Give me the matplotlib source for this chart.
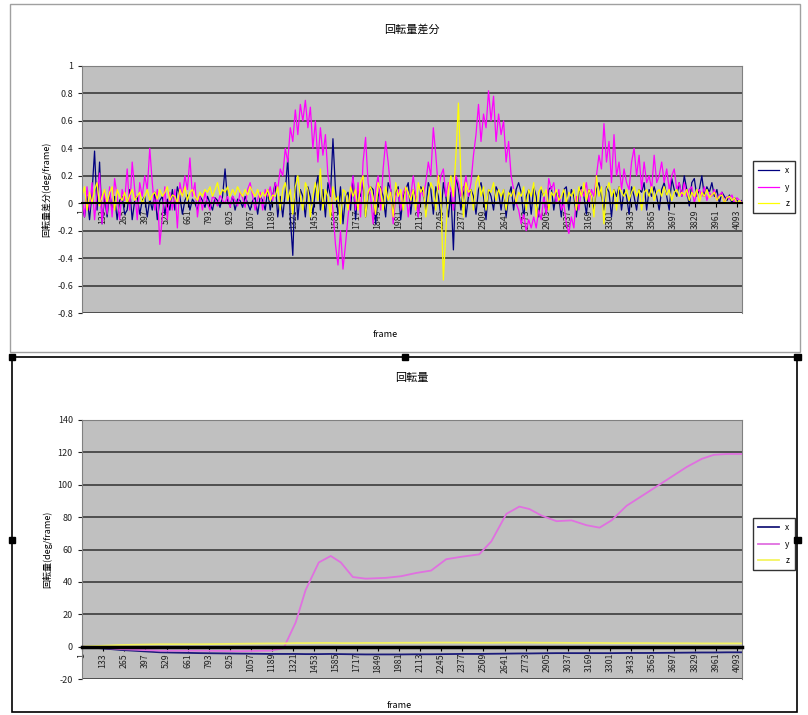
import numpy as np
import matplotlib
matplotlib.use("Agg")
import matplotlib.pyplot as plt
from matplotlib.patches import Rectangle
from matplotlib.ticker import FixedLocator, FuncFormatter

plt.rcParams['font.family'] = ['Noto Sans CJK JP', 'DejaVu Sans']

# --- data -------------------------------------------------------------
# frame ticks shown on the category axis
tick_frames = [1 + 132 * k for k in range(32)]

# top chart: rotation difference per frame (read by eye, 264 samples)
diff_x = [0.0, -0.1, 0.05, -0.12, 0.08, 0.38, -0.05, 0.3, -0.15, 0.05, -0.1, 0.08,
          -0.05, 0.05, -0.12, 0.02, 0.05, -0.08, -0.05, 0.1, -0.12, 0.02, 0.05, -0.08,
          0.02, 0.05, -0.1, 0.03, -0.05, 0.08, -0.12, 0.02, 0.05, -0.08, 0.03, -0.05,
          0.1, -0.05, 0.12, 0.05, -0.08, 0.02, 0.06, -0.05, 0.03, 0.0, -0.05, 0.05,
          0.02, -0.03, 0.05, 0.0, -0.05, 0.04, 0.02, -0.03, 0.05, 0.25, 0.02, -0.02,
          0.05, -0.05, 0.03, 0.02, -0.03, 0.05, 0.0, -0.05, 0.02, 0.04, -0.08, 0.05,
          0.02, -0.05, 0.1, -0.05, 0.05, 0.15, -0.1, 0.05, -0.1, 0.08, 0.33, -0.1,
          -0.38, 0.2, -0.12, 0.1, 0.05, -0.1, 0.12, 0.05, -0.08, 0.1, 0.2, -0.05,
          0.1, -0.1, 0.15, 0.05, 0.47, 0.1, -0.08, 0.12, -0.15, 0.05, 0.08, -0.05,
          0.2, -0.12, 0.1, 0.05, 0.15, -0.1, 0.05, 0.12, 0.1, -0.15, 0.05, 0.12,
          0.05, -0.1, 0.15, 0.1, -0.05, 0.08, 0.12, -0.12, 0.05, 0.1, 0.15, -0.08,
          0.1, 0.05, -0.1, 0.12, 0.08, -0.05, 0.15, 0.1, -0.08, 0.12, 0.05, -0.1,
          0.15, 0.05, -0.1, 0.08, -0.34, 0.2, 0.1, -0.05, 0.12, -0.1, 0.05, 0.1,
          0.05, -0.08, 0.1, 0.15, 0.05, -0.12, 0.1, 0.05, -0.05, 0.12, 0.08, -0.05,
          0.1, -0.1, 0.05, 0.12, -0.05, 0.1, 0.15, 0.08, -0.1, 0.05, 0.1, -0.08,
          0.12, 0.05, -0.1, 0.1, 0.05, -0.08, 0.1, 0.12, -0.05, 0.08, 0.05, -0.1,
          0.1, 0.12, -0.05, 0.1, 0.05, -0.1, 0.08, 0.12, 0.05, -0.08, 0.1, 0.05,
          -0.05, 0.1, 0.15, 0.05, -0.05, 0.12, 0.08, -0.1, 0.1, 0.05, 0.12, -0.05,
          0.1, 0.05, -0.08, 0.12, 0.05, -0.05, 0.1, 0.08, 0.15, -0.05, 0.1, 0.05,
          0.12, 0.05, -0.05, 0.1, 0.15, 0.05, -0.05, 0.18, 0.1, 0.05, 0.15, 0.05,
          0.2, 0.1, -0.02, 0.15, 0.18, 0.05, 0.1, 0.2, 0.05, 0.12, 0.08, 0.15,
          0.05, 0.1, 0.0, 0.08, 0.05, 0.02, 0.06, 0.0, 0.04, 0.02, 0.0, 0.02]
diff_y = [0.05, -0.1, 0.12, -0.05, 0.15, -0.12, 0.08, 0.22, -0.15, 0.1, -0.08, 0.12,
          -0.1, 0.18, 0.05, -0.12, 0.1, 0.02, 0.25, -0.05, 0.3, 0.1, -0.12, 0.15,
          0.05, 0.2, 0.1, 0.4, 0.15, -0.05, 0.1, -0.3, -0.1, 0.12, -0.12, 0.08,
          -0.05, 0.1, -0.18, 0.15, 0.05, 0.2, 0.1, 0.33, 0.05, 0.15, -0.1, 0.05,
          -0.05, 0.08, 0.0, -0.05, 0.05, 0.03, -0.02, 0.06, 0.02, 0.0, 0.05, -0.03,
          0.05, 0.02, -0.02, 0.08, 0.04, -0.03, 0.1, 0.15, 0.05, -0.05, 0.03, 0.08,
          -0.05, 0.1, 0.05, 0.12, 0.02, 0.15, 0.1, 0.25, 0.2, 0.4, 0.3, 0.55,
          0.45, 0.68, 0.5, 0.72, 0.6, 0.75, 0.55, 0.7, 0.4, 0.6, 0.3, 0.55,
          0.35, 0.5, 0.2, 0.1, -0.05, -0.3, -0.45, -0.2, -0.48, -0.3, -0.1, 0.05,
          0.2, -0.05, 0.15, -0.1, 0.3, 0.48, 0.15, 0.05, -0.15, 0.1, 0.2, -0.05,
          0.25, 0.45, 0.3, 0.1, -0.15, 0.05, 0.1, -0.05, 0.08, 0.12, -0.1, 0.05,
          0.2, 0.05, -0.1, 0.1, 0.05, 0.15, 0.3, 0.2, 0.55, 0.35, 0.1, 0.2,
          0.25, 0.05, 0.15, 0.1, -0.05, 0.2, 0.15, 0.05, 0.1, 0.2, 0.05, 0.15,
          0.35, 0.5, 0.72, 0.45, 0.65, 0.55, 0.82, 0.6, 0.78, 0.45, 0.65, 0.5,
          0.6, 0.3, 0.45, 0.2, 0.1, 0.0, -0.05, -0.15, -0.08, -0.2, -0.12, -0.18,
          -0.1, -0.18, -0.05, -0.12, 0.05, -0.08, 0.18, 0.1, 0.15, 0.0, 0.1, -0.05,
          0.0, -0.15, -0.22, -0.1, -0.18, 0.05, -0.05, 0.1, 0.05, 0.15, 0.0, 0.1,
          0.05, 0.2, 0.35, 0.25, 0.58, 0.3, 0.45, 0.15, 0.5, 0.2, 0.3, 0.1,
          0.25, 0.15, 0.1, 0.3, 0.4, 0.2, 0.35, 0.1, 0.3, 0.15, 0.2, 0.1,
          0.35, 0.15, 0.2, 0.3, 0.15, 0.25, 0.1, 0.2, 0.25, 0.1, 0.15, 0.05,
          0.15, 0.05, 0.1, 0.12, 0.0, 0.08, 0.1, 0.05, 0.12, 0.02, 0.08, 0.05,
          0.1, 0.02, 0.06, 0.08, 0.0, 0.05, 0.03, 0.06, 0.0, 0.04, 0.02, 0.01]
diff_z = [0.05, 0.12, -0.05, 0.08, 0.0, 0.1, 0.15, -0.02, 0.05, 0.1, 0.0, 0.08,
          0.12, -0.05, 0.1, 0.05, 0.02, 0.08, 0.0, 0.06, 0.1, 0.02, 0.05, 0.08,
          0.0, 0.05, 0.1, 0.02, 0.06, 0.08, 0.03, 0.1, 0.05, 0.08, 0.12, 0.02,
          0.06, 0.05, 0.0, 0.1, 0.05, 0.12, 0.02, 0.08, 0.1, 0.05, 0.02, 0.08,
          0.05, 0.1, 0.08, 0.12, 0.05, 0.1, 0.15, 0.06, 0.1, 0.08, 0.12, 0.05,
          0.1, 0.06, 0.12, 0.08, 0.05, 0.1, 0.06, 0.12, 0.08, 0.05, 0.1, 0.04,
          0.08, 0.05, 0.1, 0.02, 0.06, 0.05, 0.12, -0.05, 0.1, 0.15, 0.02, 0.1,
          -0.08, 0.12, 0.2, 0.05, -0.05, 0.15, 0.1, -0.1, 0.05, 0.15, 0.02, 0.25,
          -0.05, 0.1, 0.05, -0.1, 0.12, 0.02, 0.05, -0.15, 0.1, 0.08, -0.05, 0.12,
          0.05, 0.1, -0.05, 0.15, 0.2, -0.1, 0.08, 0.12, 0.05, -0.08, 0.15, 0.1,
          -0.05, 0.12, 0.02, 0.08, -0.1, 0.15, 0.05, 0.1, -0.05, 0.12, 0.08, 0.02,
          0.1, -0.05, 0.15, 0.08, 0.12, -0.1, 0.05, 0.15, 0.1, -0.05, 0.2, 0.05,
          -0.56, -0.2, 0.1, 0.2, 0.05, 0.35, 0.73, 0.2, -0.1, 0.15, 0.08, 0.1,
          -0.05, 0.15, 0.2, 0.05, 0.12, -0.05, 0.1, 0.08, 0.15, 0.02, 0.1, 0.05,
          0.1, -0.05, 0.08, 0.05, 0.1, 0.0, 0.08, 0.05, 0.12, -0.05, 0.1, 0.05,
          0.15, -0.1, 0.08, 0.12, 0.05, 0.1, -0.05, 0.08, 0.05, 0.1, 0.02, 0.05,
          0.1, 0.0, 0.08, 0.05, 0.1, -0.05, 0.12, 0.05, 0.15, 0.02, 0.1, 0.05,
          -0.1, 0.2, 0.05, 0.12, -0.15, 0.1, 0.15, 0.05, 0.1, -0.05, 0.12, 0.08,
          0.05, 0.1, 0.02, 0.08, 0.12, 0.05, 0.1, -0.05, 0.08, 0.1, 0.05, 0.12,
          0.02, 0.08, 0.1, 0.05, 0.12, 0.06, 0.1, 0.02, 0.08, 0.1, 0.05, 0.08,
          0.06, 0.1, 0.02, 0.08, 0.05, 0.1, 0.0, 0.08, 0.05, 0.1, 0.04, 0.06,
          0.08, 0.02, 0.05, 0.06, 0.0, 0.04, 0.05, 0.02, 0.04, 0.0, 0.02, 0.0]

# bottom chart: accumulated rotation
frames_b = [1, 239, 490, 740, 991, 1179, 1260, 1336, 1398, 1480,
            1555, 1618, 1693, 1774, 1900, 1994, 2088, 2182, 2276, 2370,
            2482, 2558, 2652, 2733, 2796, 2871, 2965, 3059, 3153, 3234,
            3309, 3403, 3529, 3654, 3779, 3873, 3948, 4030, 4124]
rot_x = [0, -2, -3.5, -4, -4.3, -4.5, -4.5, -4.5, -4.6, -4.6,
         -4.5, -4.6, -4.7, -4.8, -4.8, -4.8, -4.7, -4.7, -4.6, -4.5,
         -4.5, -4.4, -4.3, -4.2, -4.2, -4.1, -4, -4, -4, -4,
         -4, -3.9, -3.9, -3.8, -3.7, -3.6, -3.6, -3.5, -3.5]
rot_y = [0, -1.5, -2.5, -2.5, -2.8, -2.5, -1, 15, 35, 52,
         56, 52, 43, 42, 42.5, 43.5, 45.5, 47, 54, 55.5,
         57, 65, 82, 86.5, 85, 81, 77.5, 78, 75, 73.5,
         78, 87, 95, 103, 111, 116, 118.5, 119, 119]
rot_z = [0, 1, 1.5, 1.5, 1.8, 2, 2, 2.2, 2.2, 2.3,
         2.3, 2.2, 2.2, 2.3, 2.3, 2.4, 2.4, 2.5, 2.5, 2.5,
         2.4, 2.4, 2.5, 2.5, 2.5, 2.4, 2.4, 2.3, 2.3, 2.3,
         2.2, 2.2, 2.2, 2.1, 2.1, 2.0, 2.0, 2.0, 2.0]

labels = ['x', 'y', 'z']
colors = ['#000080', '#ff00ff', '#ffff00']

fig = plt.figure(figsize=(8.08, 7.15), dpi=100)

# chart area frames
fig.patches.append(Rectangle((0.012, 0.507), 0.978, 0.488, transform=fig.transFigure,
                             fill=False, edgecolor='#a0a0a0', lw=1))
fig.patches.append(Rectangle((0.015, 0.004), 0.972, 0.497, transform=fig.transFigure,
                             fill=False, edgecolor='black', lw=1.2))
for hx, hy in [(0.015, 0.501), (0.501, 0.501), (0.987, 0.501), (0.015, 0.245), (0.987, 0.245)]:
    fig.patches.append(Rectangle((hx - 0.004, hy - 0.0045), 0.008, 0.009,
                                 transform=fig.transFigure, color='black'))


def style_axes(ax, ylim, yticks, fmt, axis_lw):
    # category axis crosses at 0, like the Excel chart
    ax.spines['bottom'].set_position(('data', 0))
    ax.spines['bottom'].set_color('black')
    ax.spines['bottom'].set_linewidth(axis_lw)
    for s in ['top', 'right', 'left']:
        ax.spines[s].set_color('#808080')
    ax.set_facecolor('#c0c0c0')
    ax.set_xlim(1, 4124)
    ax.set_ylim(*ylim)
    ax.yaxis.set_major_locator(FixedLocator(yticks))
    ax.yaxis.set_major_formatter(FuncFormatter(fmt))
    ax.grid(axis='y', color='#303030', lw=1.1)
    ax.set_axisbelow(True)
    ax.set_xticks(tick_frames)
    ax.set_xticklabels([str(t) for t in tick_frames], rotation=90, fontsize=6.3, color='#222222')
    ax.tick_params(axis='x', length=3, pad=1.5)
    ax.tick_params(axis='y', labelsize=6.5, length=3, colors='#222222')


# top chart
ax1 = fig.add_axes([0.1015, 0.5622, 0.8168, 0.3455])
frames_t = np.linspace(1, 4124, len(diff_y))
for vals, lab, col in zip([diff_x, diff_y, diff_z], labels, colors):
    ax1.plot(frames_t, vals, color=col, lw=0.9, label=lab)
style_axes(ax1, (-0.8, 1), [-0.8, -0.6, -0.4, -0.2, 0, 0.2, 0.4, 0.6, 0.8, 1],
           lambda v, p: '%g' % round(v, 1), 1.5)
ax1.set_title('回転量差分', fontsize=8, pad=24)
ax1.set_ylabel('回転量差分(deg/frame)', fontsize=6.5)
ax1.set_xlabel('frame', fontsize=6.5)
ax1.xaxis.set_label_coords(0.46, -0.07)
ax1.legend(loc='center left', bbox_to_anchor=(1.01, 0.51), fontsize=6, handlelength=2.5,
           frameon=True, fancybox=False, edgecolor='black', borderpad=0.6, labelspacing=0.9)

# bottom chart
ax2 = fig.add_axes([0.1015, 0.0503, 0.8168, 0.3623])
bcolors = ['#1a1a7a', '#e070e0', '#f4f460']
for vals, lab, col in zip([rot_x, rot_y, rot_z], labels, bcolors):
    ax2.plot(frames_b, vals, color=col, lw=1.3, label=lab)
style_axes(ax2, (-20, 140), list(range(-20, 141, 20)), lambda v, p: '%d' % v, 2.5)
ax2.set_title('回転量', fontsize=8, pad=28)
ax2.set_ylabel('回転量(deg/frame)', fontsize=6.5)
ax2.set_xlabel('frame', fontsize=6.5)
ax2.xaxis.set_label_coords(0.48, -0.085)
ax2.legend(loc='center left', bbox_to_anchor=(1.01, 0.52), fontsize=6, handlelength=2.5,
           frameon=True, fancybox=False, edgecolor='black', borderpad=0.6, labelspacing=0.9)

plt.savefig('out.png', dpi=100)
